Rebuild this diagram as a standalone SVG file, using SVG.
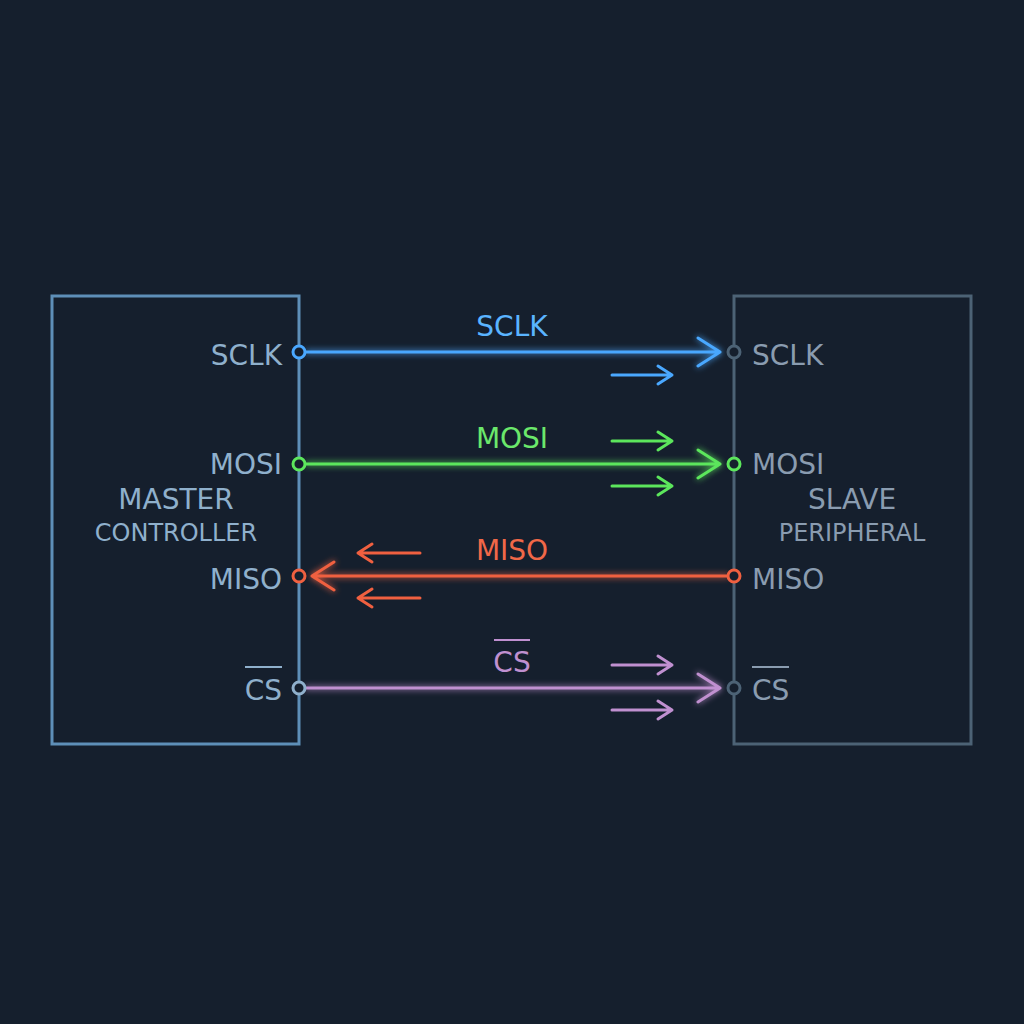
<svg xmlns="http://www.w3.org/2000/svg" width="1024" height="1024" viewBox="0 0 1024 1024">
<style>
.t{font-family:"DejaVu Sans","Liberation Sans",sans-serif;font-size:28px}
.lt{fill:#8fb0cc}.rt{fill:#8a9cb0}
.w{fill:none;stroke-width:3;stroke-linecap:round;stroke-linejoin:round}
</style>
<defs>
<filter id="g" x="-10%" y="-200%" width="120%" height="500%"><feGaussianBlur stdDeviation="3" result="b"/><feMerge><feMergeNode in="b"/><feMergeNode in="SourceGraphic"/></feMerge></filter>
</defs>
<rect width="1024" height="1024" fill="#151f2d"/>
<g id="master">
<rect x="52" y="296" width="247" height="448" fill="none" stroke="#5e8fb8" stroke-width="3"/>
<text class="t lt" x="176" y="509" text-anchor="middle" font-size="32">MASTER</text>
<text class="t lt" x="176" y="541" text-anchor="middle" style="font-size:24px">CONTROLLER</text>
<g class="t lt" text-anchor="end"><text x="282" y="365">SCLK</text><text x="282" y="474">MOSI</text><text x="282" y="589">MISO</text><text x="282" y="700">CS</text></g>
<line x1="245" y1="667" x2="282" y2="667" stroke="#8fb0cc" stroke-width="2"/>
</g>
<g id="slave">
<rect x="734" y="296" width="237" height="448" fill="none" stroke="#4c6275" stroke-width="3"/>
<text class="t rt" x="852" y="509" text-anchor="middle" font-size="32">SLAVE</text>
<text class="t rt" x="852" y="541" text-anchor="middle" style="font-size:24px">PERIPHERAL</text>
<g class="t rt"><text x="752" y="365">SCLK</text><text x="752" y="474">MOSI</text><text x="752" y="589">MISO</text><text x="752" y="700">CS</text></g>
<line x1="752" y1="667" x2="789" y2="667" stroke="#8a9cb0" stroke-width="2"/>
</g>
<g id="connectors">
<g stroke="#4aa8ff" class="w">
<path d="M306 352H720M698 338L720 352L698 366" filter="url(#g)"/>
<path d="M612 375H672M658 366L672 375L658 384"/>
<circle cx="299" cy="352" r="6" fill="#151f2d"/><circle cx="734" cy="352" r="6" fill="#151f2d" stroke="#4c6275"/>
</g>
<text class="t" x="512" y="336" text-anchor="middle" fill="#5ab4ff">SCLK</text>
<g stroke="#5ce65c" class="w">
<path d="M306 464H720M698 450L720 464L698 478" filter="url(#g)"/>
<path d="M612 441H672M658 432L672 441L658 450M612 486H672M658 477L672 486L658 495"/>
<circle cx="299" cy="464" r="6" fill="#151f2d"/><circle cx="734" cy="464" r="6" fill="#151f2d"/>
</g>
<text class="t" x="512" y="448" text-anchor="middle" fill="#6be86b">MOSI</text>
<g stroke="#f06040" class="w">
<path d="M728 576H312M334 562L312 576L334 590" filter="url(#g)"/>
<path d="M420 553H358M372 544L358 553L372 562M420 598H358M372 589L358 598L372 607"/>
<circle cx="299" cy="576" r="6" fill="#151f2d"/><circle cx="734" cy="576" r="6" fill="#151f2d"/>
</g>
<text class="t" x="512" y="560" text-anchor="middle" fill="#f06848">MISO</text>
<g stroke="#c090d0" class="w">
<path d="M306 688H720M698 674L720 688L698 702" filter="url(#g)"/>
<path d="M612 665H672M658 656L672 665L658 674M612 710H672M658 701L672 710L658 719"/>
<circle cx="299" cy="688" r="6" fill="#151f2d" stroke="#8fb0cc"/><circle cx="734" cy="688" r="6" fill="#151f2d" stroke="#4c6275"/>
</g>
<text class="t" x="512" y="672" text-anchor="middle" fill="#c090d0">CS</text>
<line x1="494" y1="640" x2="530" y2="640" stroke="#c090d0" stroke-width="2"/>
</g>
</svg>
